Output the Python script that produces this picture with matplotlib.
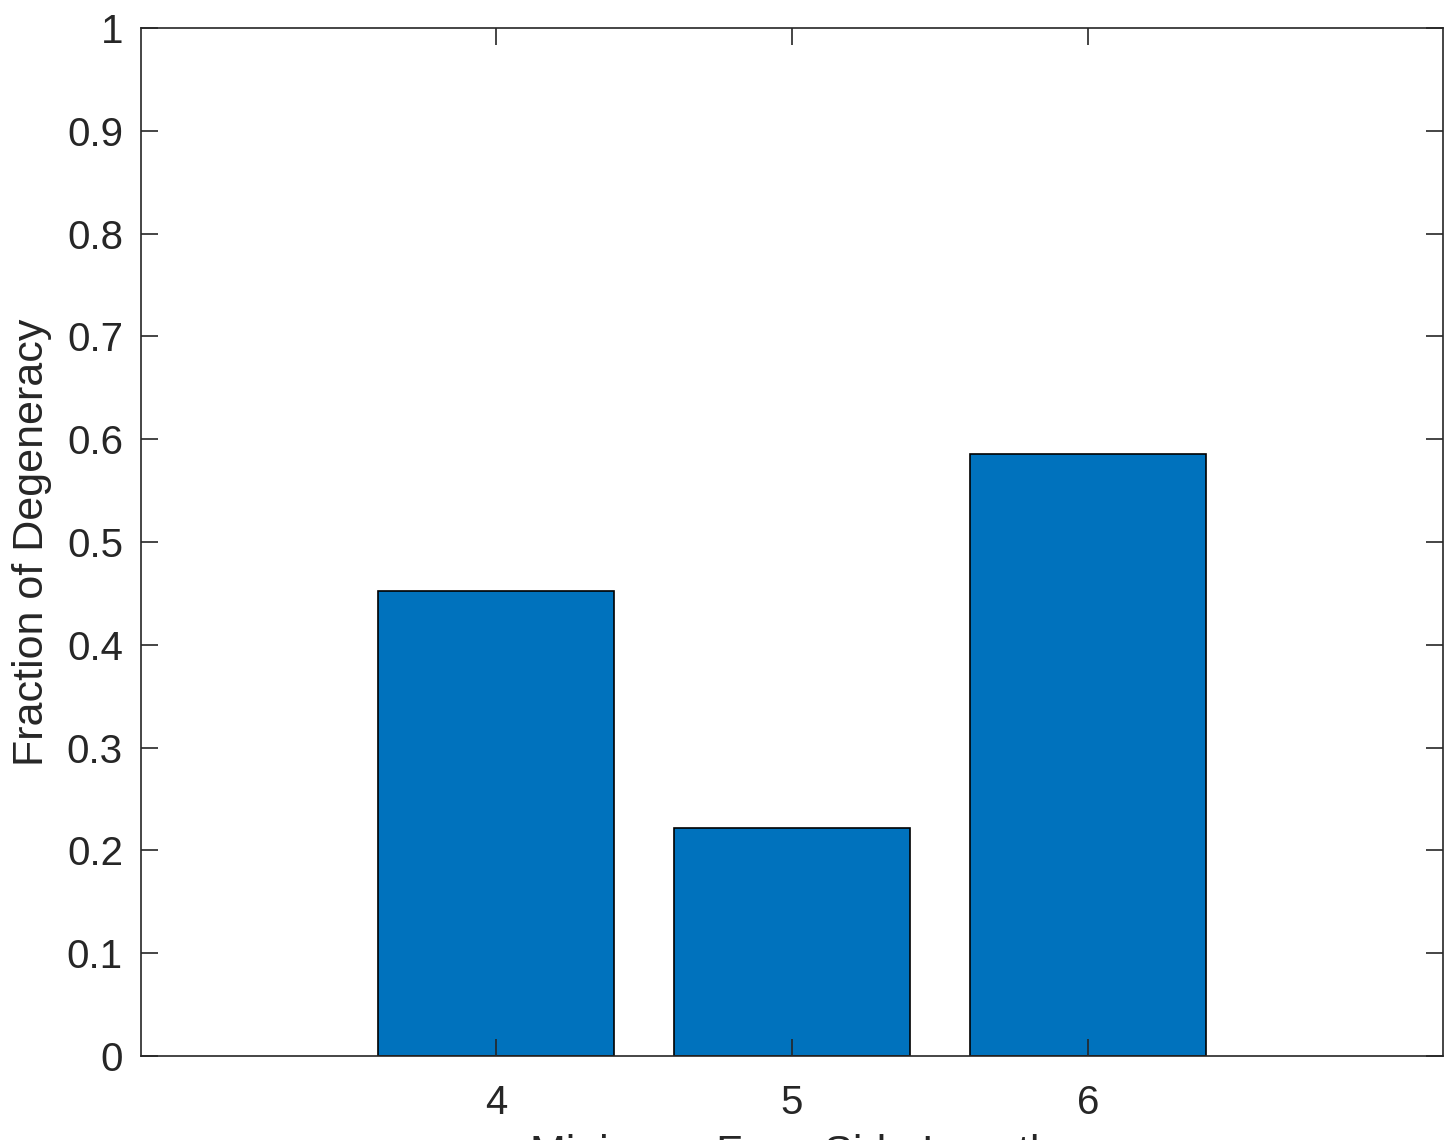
import numpy as np
import matplotlib.pyplot as plt

plt.rcParams['font.family'] = ['Liberation Sans', 'DejaVu Sans']

# data
sizes = [4, 5, 6]
fractions = [0.452, 0.222, 0.586]
yticks = np.round(np.arange(0, 1.01, 0.1), 1)
ytick_labels = ['0'] + ['%.1f' % v for v in yticks[1:-1]] + ['1']

BAR_COLOR = '#0072BD'
AXIS_COLOR = '#262626'

fig = plt.figure(figsize=(14.53, 11.40), dpi=100)
ax = fig.add_axes([141 / 1453, 1 - 1056 / 1140, (1443 - 141) / 1453, (1056 - 28) / 1140])

ax.bar(sizes, fractions, width=0.8, color=BAR_COLOR, edgecolor='black', linewidth=1.2)

ax.set_xlim(2.8, 7.2)
ax.set_ylim(0, 1)
ax.set_xticks(sizes)
ax.set_yticks(yticks)
ax.set_yticklabels(ytick_labels)

ax.tick_params(direction='in', length=12, width=1.2, color=AXIS_COLOR,
               labelcolor=AXIS_COLOR, labelsize=29, top=True, right=True)
ax.tick_params(axis='y', pad=13)
ax.tick_params(axis='x', pad=20)
for s in ax.spines.values():
    s.set_color(AXIS_COLOR)
    s.set_linewidth(1.2)

ax.set_ylabel('Fraction of Degeneracy', fontsize=31, color=AXIS_COLOR)
ax.yaxis.set_label_coords(-89 / 1302, 0.5)
# the x label is cut off by the bottom edge in the reference
ax.set_xlabel('Minimum Face Side Length', fontsize=31, color=AXIS_COLOR)
ax.xaxis.set_label_coords(0.5, -78 / 1028)

fig.savefig('out.png', dpi=100)
